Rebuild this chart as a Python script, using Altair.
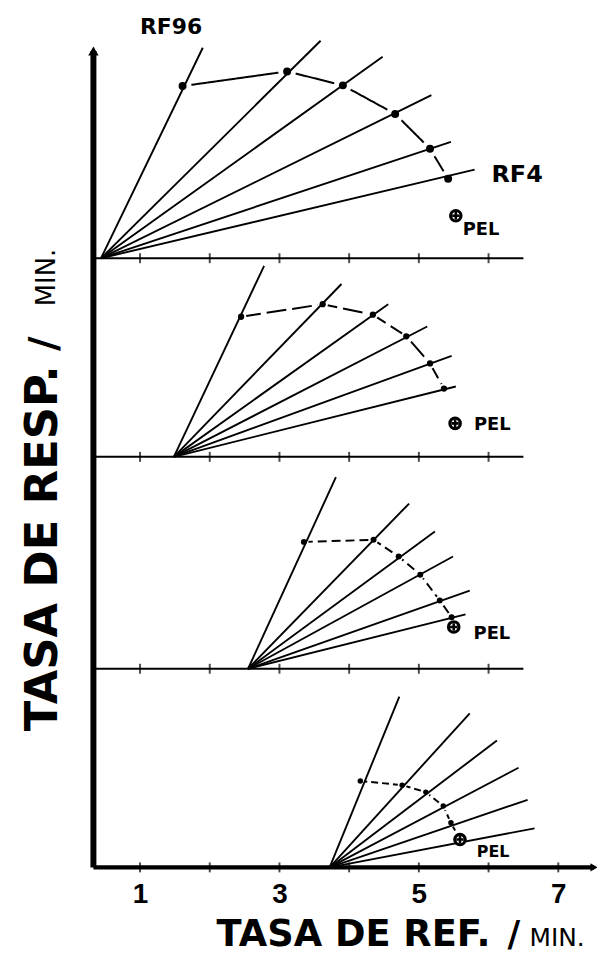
import altair as alt
import pandas as pd

# ---- axis extents (data units: rate per minute) ----
XMIN, XMAX = 0.331, 7.513
YMAX = 11.714

# ---- panels, top to bottom ----
panel_base = [8.74, 5.89, 2.85, 0.0]          # baseline of each panel on the shared response axis
origin_x = [0.44, 1.485, 2.55, 3.72]          # common origin of each fan
panel_axis_end = 6.5
tick_panel = [1, 2, 3, 4, 5, 6]
tick_bottom = [1, 2, 3, 4, 5, 6, 7]
x_labels = [1, 3, 5, 7]

# fan line ends (x, and y relative to panel baseline), RF96 ... RF4
end_x = [[1.90, 3.59, 4.48, 5.18, 5.46, 5.80],
         [2.78, 3.89, 4.56, 5.12, 5.47, 5.53],
         [3.81, 4.86, 5.23, 5.49, 5.73, 5.67],
         [4.72, 5.73, 6.12, 6.43, 6.56, 6.66]]
end_y = [[3.02, 3.12, 2.89, 2.34, 1.67, 1.27],
         [2.74, 2.48, 2.19, 1.87, 1.45, 1.01],
         [2.75, 2.37, 1.97, 1.61, 1.12, 0.78],
         [2.45, 2.21, 1.82, 1.43, 0.97, 0.56]]
# obtained points on each line (joined by the dashed curve)
dot_x = [[1.61, 3.11, 3.91, 4.66, 5.16, 5.42],
         [2.45, 3.62, 4.34, 4.82, 5.16, 5.36],
         [3.35, 4.35, 4.71, 5.02, 5.30, 5.47],
         [4.16, 4.76, 5.10, 5.35, 5.46, 5.59]]
dot_y = [[2.47, 2.68, 2.48, 2.07, 1.57, 1.14],
         [2.01, 2.19, 2.04, 1.73, 1.34, 0.98],
         [1.82, 1.85, 1.61, 1.35, 0.98, 0.74],
         [1.24, 1.18, 1.08, 0.88, 0.64, 0.40]]
# PEL points
pel_x = [5.53, 5.52, 5.50, 5.59]
pel_y = [0.61, 0.48, 0.60, 0.40]

# ---- tables ----
fan_rows, dot_rows = [], []
for p in range(4):
    for i in range(6):
        fan_rows.append({"panel": p, "line": i, "x0": origin_x[p], "y0": panel_base[p],
                         "x1": end_x[p][i], "y1": panel_base[p] + end_y[p][i]})
        dot_rows.append({"panel": p, "line": i, "x": dot_x[p][i], "y": panel_base[p] + dot_y[p][i]})
fan = pd.DataFrame(fan_rows)
dots = pd.DataFrame(dot_rows)
pel = pd.DataFrame({"panel": [0, 1, 2, 3], "x": pel_x,
                    "y": [b + v for b, v in zip(panel_base, pel_y)]})
bases = pd.DataFrame({"x": [XMIN] * 3, "x2": [panel_axis_end] * 3, "y": panel_base[:3]})
bottom = pd.DataFrame({"x": [XMIN], "x2": [XMAX], "y": [0.0]})
yaxis = pd.DataFrame({"x": [XMIN], "y": [0.0], "y2": [YMAX]})
ticks = pd.DataFrame({"x": [t for b in panel_base[:3] for t in tick_panel] + tick_bottom,
                      "y": [b for b in panel_base[:3] for t in tick_panel] + [0.0] * len(tick_bottom)})

xs = alt.Scale(domain=[XMIN, XMAX], nice=False, zero=False)
ys = alt.Scale(domain=[0, YMAX], nice=False, zero=False)
xaxis = alt.Axis(values=x_labels, ticks=False, domain=False, grid=False, title=None,
                 labelFontSize=28, labelFont="Liberation Sans", labelFontWeight="bold",
                 labelColor="black", labelPadding=13, labelFlush=False)


def X(f):
    return alt.X(f, type="quantitative", scale=xs, axis=xaxis)


def Y(f):
    return alt.Y(f, type="quantitative", scale=ys, axis=None)


layers = []
# axes lines
layers.append(alt.Chart(yaxis).mark_rule(color="black", strokeWidth=6).encode(x=X("x"), y=Y("y"), y2="y2"))
layers.append(alt.Chart(bottom).mark_rule(color="black", strokeWidth=4.5).encode(x=X("x"), x2="x2", y=Y("y")))
layers.append(alt.Chart(bases).mark_rule(color="black", strokeWidth=2).encode(x=X("x"), x2="x2", y=Y("y")))
layers.append(alt.Chart(ticks).mark_tick(orient="vertical", size=10, thickness=2, color="black").encode(x=X("x"), y=Y("y")))
layers.append(alt.Chart(yaxis).mark_point(shape="triangle-up", filled=True, color="black", size=110, opacity=1)
              .encode(x=X("x"), y=Y("y2")))
layers.append(alt.Chart(bottom).mark_point(shape="triangle-right", filled=True, color="black", size=70, opacity=1)
              .encode(x=X("x2"), y=Y("y")))

# dashed curves through obtained points
dashes = [[1, 0], [20, 6], [9, 5], [7, 4]]
for p in range(4):
    layers.append(alt.Chart(dots[dots.panel == p]).mark_line(color="black", strokeWidth=2, strokeDash=dashes[p])
                  .encode(x=X("x"), y=Y("y"), order="line:Q"))
# white gaps round the points
halo = [324, 110, 90, 80]
for p in range(4):
    layers.append(alt.Chart(dots[dots.panel == p]).mark_circle(color="white", opacity=1, size=halo[p])
                  .encode(x=X("x"), y=Y("y")))
# fan lines
layers.append(alt.Chart(fan).mark_rule(color="black", strokeWidth=1.9)
              .encode(x=X("x0"), y=Y("y0"), x2="x1", y2="y1"))
# points
dsize = [64, 40, 36, 30]
for p in range(4):
    layers.append(alt.Chart(dots[dots.panel == p]).mark_circle(color="black", opacity=1, size=dsize[p])
                  .encode(x=X("x"), y=Y("y")))
# PEL symbols
layers.append(alt.Chart(pel).mark_point(shape="circle", filled=True, color="white", opacity=1, size=120)
              .encode(x=X("x"), y=Y("y")))
layers.append(alt.Chart(pel).mark_point(shape="circle", filled=False, color="black", strokeWidth=3.2, opacity=1, size=110)
              .encode(x=X("x"), y=Y("y")))
layers.append(alt.Chart(pel).mark_point(shape="M-0.7,0L0.7,0M0,-0.7L0,0.7", filled=False, color="black",
                                         strokeWidth=2.6, opacity=1, size=110)
              .encode(x=X("x"), y=Y("y")))
pel_off = [(7, 14, 18), (19, 2, 18), (20, 7, 18), (17, 13, 16)]
for p in range(4):
    dx, dy, fs = pel_off[p]
    layers.append(alt.Chart(pel[pel.panel == p]).mark_text(text="PEL", align="left", baseline="middle", dx=dx, dy=dy,
                                                           font="DejaVu Sans", fontWeight="bold", fontSize=fs, color="black")
                  .encode(x=X("x"), y=Y("y")))
# RF labels
layers.append(alt.Chart(fan[(fan.panel == 0) & (fan.line == 0)]).mark_text(
    text="RF96", align="center", baseline="middle", dx=-32, dy=-21, font="DejaVu Sans", fontWeight="bold",
    fontSize=22, color="black").encode(x=X("x1"), y=Y("y1")))
layers.append(alt.Chart(fan[(fan.panel == 0) & (fan.line == 5)]).mark_text(
    text="RF4", align="left", baseline="middle", dx=17, dy=5, font="DejaVu Sans", fontWeight="bold",
    fontSize=24, color="black").encode(x=X("x1"), y=Y("y1")))

# axis titles
one = pd.DataFrame({"k": [0]})
def title_part(txt, x, y, size, weight="bold", angle=0):
    return alt.Chart(one).mark_text(text=txt, align="left", baseline="alphabetic", font="DejaVu Sans",
                                    fontWeight=weight, fontSize=size, angle=angle, color="black").encode(
        x=alt.value(x), y=alt.value(y))

layers.append(title_part("TASA DE REF.", 124, 901, 37))
layers.append(title_part("/", 417, 901, 35))
layers.append(title_part("MIN.", 439, 901, 25, weight="normal"))
layers.append(title_part("TASA DE RESP.", -37, 685, 45, angle=270))
layers.append(title_part("/", -37, 302, 40, angle=270))
layers.append(title_part("MIN.", -39, 257, 26, weight="normal", angle=270))

chart = alt.layer(*layers).properties(
    width=504, height=822,
    padding={"left": 86, "top": 40, "right": 3, "bottom": 87},
    autosize=alt.AutoSizeParams(type="none"),
    background="white",
).configure_view(stroke=None)

chart.save("out.html", embed_options={"renderer": "svg", "actions": False})
